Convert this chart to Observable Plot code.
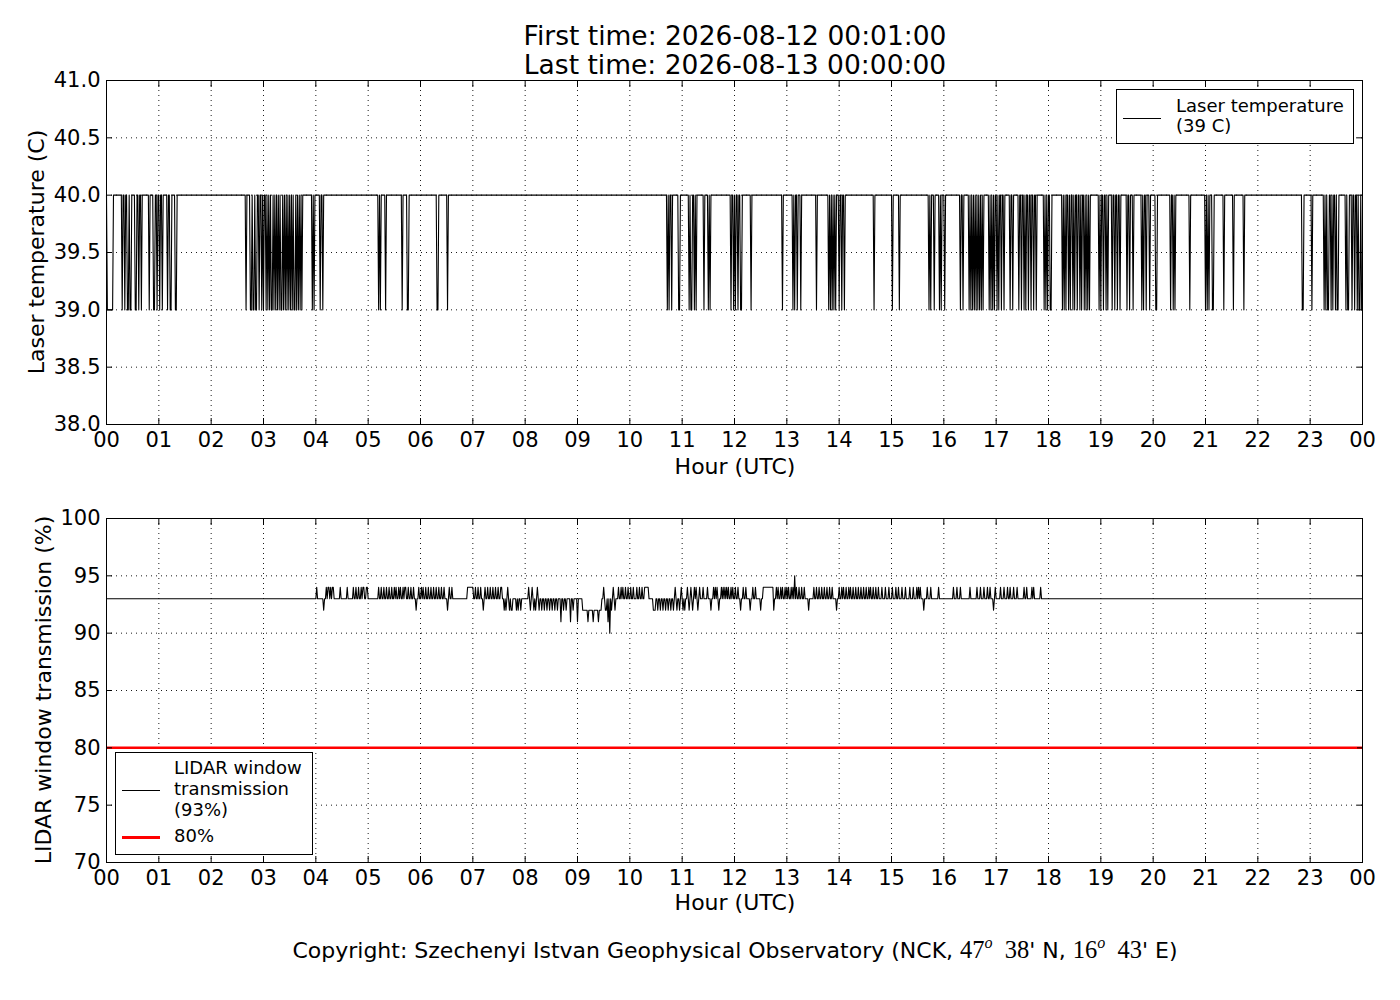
<!DOCTYPE html>
<html>
<head>
<meta charset="utf-8">
<script src="https://cdn.jsdelivr.net/npm/d3@7"></script>
<script src="https://cdn.jsdelivr.net/npm/@observablehq/plot@0.6"></script>
<style>
  html, body { margin: 0; padding: 0; background: #fff; }
  #page { position: relative; width: 1400px; height: 1000px; overflow: hidden; background: #fff; font-family: "DejaVu Sans", sans-serif; color: #000; }
  .abs { position: absolute; white-space: nowrap; }
  .center { transform: translate(-50%, -50%); }
  .title { font-size: 26.5px; line-height: 29px; text-align: center; }
  .axlabel { font-size: 22px; }
  .ylab { transform: translate(-50%, -50%) rotate(-90deg); }
  .legend { position: absolute; box-sizing: border-box; border: 1px solid #000; background: #fff; font-size: 18px; }
  .legend .t { position: absolute; line-height: 20px; }
  .legend svg { shape-rendering: crispEdges; }
  .plotwrap { position: absolute; left: 0; }
  .math { font-family: "Liberation Serif", "DejaVu Serif", serif; font-size: 24.5px; }
  .math sup { font-style: italic; font-size: 16px; vertical-align: 10px; line-height: 0; }
</style>
</head>
<body>
<div id="page">
  <div class="abs center title" style="left:735px; top:50px;">First time: 2026-08-12 00:01:00<br>Last time: 2026-08-13 00:00:00</div>

  <div id="topPlot" class="plotwrap" style="top:70px;"></div>
  <div id="botPlot" class="plotwrap" style="top:508px;"></div>

  <div class="abs axlabel ylab" style="left:36px; top:252px;">Laser temperature (C)</div>
  <div class="abs axlabel center" style="left:735px; top:466px;">Hour (UTC)</div>
  <div class="abs axlabel ylab" style="left:43px; top:690px;">LIDAR window transmission (%)</div>
  <div class="abs axlabel center" style="left:735px; top:902px;">Hour (UTC)</div>

  <div class="legend" style="left:1116px; top:89px; width:238px; height:55px;">
    <svg style="position:absolute; left:6px; top:26px;" width="40" height="4"><line x1="0" x2="38" y1="2" y2="2" stroke="#000" stroke-width="1"/></svg>
    <div class="t" style="left:59px; top:6px;">Laser temperature<br>(39 C)</div>
  </div>

  <div class="legend" style="left:115px; top:752px; width:198px; height:103px;">
    <svg style="position:absolute; left:6px; top:35px;" width="40" height="4"><line x1="0" x2="38" y1="2" y2="2" stroke="#000" stroke-width="1"/></svg>
    <svg style="position:absolute; left:6px; top:81px;" width="40" height="6"><line x1="0" x2="38" y1="3" y2="3" stroke="#ff0000" stroke-width="3"/></svg>
    <div class="t" style="left:58px; top:4px; line-height:21px;">LIDAR window<br>transmission<br>(93%)</div>
    <div class="t" style="left:58px; top:73px;">80%</div>
  </div>

  <div class="abs center" style="left:735px; top:950px; font-size:22px;">Copyright: Szechenyi Istvan Geophysical Observatory (NCK, <span class="math">47<sup>o</sup>&nbsp;&nbsp;38</span>' N, <span class="math">16<sup>o</sup>&nbsp;&nbsp;43</span>' E)</div>
</div>

<script>
// ---------- data (minutes of the day, 0..1440) ----------
const hourTicks = [0,60,120,180,240,300,360,420,480,540,600,660,720,780,840,900,960,1020,1080,1140,1200,1260,1320,1380,1440];
const hourLabels = ["00","01","02","03","04","05","06","07","08","09","10","11","12","13","14","15","16","17","18","19","20","21","22","23","00"];
const tempTicks = [38.0, 38.5, 39.0, 39.5, 40.0, 40.5, 41.0];
const transTicks = [70, 75, 80, 85, 90, 95, 100];

// laser temperature: normal value, and minute spans [start, end) where it reads 39 C
const tempHigh = 40;
const tempLow = 39;
const tempLowSpans = [
  [1,8],[18,19],[21,22],[24,26],[27,29],[33,35],[37,38],[40,41],[49,50],[54,56],[58,59],[61,62],
  [64,65],[70,71],[73,75],[79,81],
  [160,161],[165,167],[168,170],[171,173],[175,176],[178,179],[180,181],
  [183,184],[185,186],[187,188],[189,191],[192,193],[194,195],[196,197],[198,199],[200,202],
  [203,204],[205,206],[207,208],[209,210],[211,212],[213,214],[215,217],[218,219],[220,221],
  [222,223],[224,225],[236,237],[238,239],[245,246],[248,249],
  [312,313],[314,315],[320,321],[339,340],[345,347],[379,381],[391,392],
  [643,644],[645,646],[648,649],[656,658],[668,669],[670,672],[674,675],[676,677],
  [685,686],[690,691],[692,693],[716,717],[719,720],[721,722],[724,725],[727,729],
  [739,740],[775,776],[787,788],[789,790],[792,793],[796,797],[814,815],
  [828,829],[830,831],[832,833],[834,835],[836,837],[840,841],[843,844],[846,847],
  [880,881],[901,902],[909,910],[943,944],[945,946],[949,950],[955,956],[957,958],[961,962],
  [979,980],[982,983],[989,990],[991,992],[993,994],[995,996],[997,998],[999,1000],
  [1001,1002],[1003,1004],[1005,1006],[1012,1013],[1014,1015],[1016,1017],[1018,1019],
  [1021,1022],[1023,1024],[1026,1027],[1029,1030],[1036,1037],[1039,1040],[1046,1047],[1049,1050],
  [1052,1053],[1054,1055],[1057,1058],[1060,1061],[1063,1064],[1066,1067],
  [1075,1076],[1077,1078],[1079,1080],[1082,1084],
  [1096,1097],[1098,1099],[1100,1101],[1103,1104],[1105,1106],[1108,1109],[1110,1111],
  [1113,1114],[1116,1117],[1118,1119],[1121,1122],[1123,1124],[1125,1126],[1127,1128],
  [1138,1139],[1140,1141],[1143,1144],[1146,1147],[1148,1149],
  [1153,1154],[1156,1157],[1159,1160],[1162,1163],[1170,1171],[1173,1174],[1177,1178],
  [1187,1188],[1189,1190],[1192,1193],[1196,1197],[1203,1205],
  [1220,1221],[1223,1224],[1225,1226],[1242,1243],
  [1260,1261],[1262,1263],[1264,1265],[1268,1270],[1281,1282],[1292,1293],[1304,1305],
  [1371,1373],[1382,1383],[1396,1397],[1398,1399],[1400,1402],[1404,1405],[1406,1407],
  [1409,1410],[1411,1413],[1421,1422],[1423,1425],[1428,1429],[1431,1432],
  [1434,1435],[1436,1438],[1439,1441]
];

// LIDAR window transmission: usual value, and minute spans [start, end, value] that differ
const transBase = 93;
const transThreshold = 80;
const transSpans = [
  [241,242,94],[249,250,92],[252,253,94],[254,256,94],[257,258,94],[259,261,94],[268,269,94],[276,277,94],
  [283,284,94],[286,287,94],[289,290,94],[292,293,94],[294,296,94],[298,300,94],
  [312,313,94],[315,316,94],[318,319,94],[321,322,94],[324,325,94],[327,328,94],[330,331,94],[332,333,94],
  [335,336,94],[337,338,94],[340,341,94],[342,344,94],[346,347,94],[349,350,94],[352,353,94],[355,356,92],
  [358,359,94],[361,362,94],[363,364,94],[366,367,94],[369,370,94],[372,373,94],[375,376,94],[378,379,94],
  [381,382,94],[384,385,94],[387,388,94],[391,392,92],[393,394,94],[396,397,94],
  [414,421,94],[423,424,94],[426,427,94],[429,430,94],[432,433,92],[434,435,94],[437,438,94],[440,441,94],
  [443,444,94],[446,447,94],[449,450,94],[452,454,94],
  [456,457,92],[458,459,92],[460,461,94],[462,463,92],[464,466,92],[470,471,92],[472,473,92],[475,476,92],
  [484,485,94],[486,487,92],[488,489,94],[490,491,92],[492,493,92],[494,495,94],[496,497,92],[499,500,92],
  [502,503,92],[505,506,92],[508,509,92],[511,512,92],[514,515,92],[517,518,92],
  [521,522,91],[524,525,92],[527,528,92],[532,533,91],[535,536,92],[540,541,91],
  [546,552,92],[552,553,91],[553,558,92],[558,559,91],[559,564,92],[564,565,91],[565,568,92],
  [570,571,94],[572,574,92],[575,576,91],[577,578,90],[579,580,92],[581,582,94],[583,584,92],
  [587,588,94],[590,591,94],[592,593,94],[595,596,94],[598,599,94],[601,602,94],[604,605,94],[608,609,94],
  [611,612,94],[614,615,94],[617,622,94],[627,630,92],
  [632,633,92],[635,636,92],[638,639,92],[641,642,92],[644,645,92],[647,648,92],[650,651,92],[652,653,94],[654,655,92],
  [657,658,92],[659,660,94],[661,662,92],[663,664,92],[666,667,94],[668,669,92],[670,671,94],[672,673,92],
  [674,675,94],[676,677,94],[678,679,92],[680,681,94],[684,685,94],
  [689,690,94],[693,694,92],[696,697,94],[698,699,94],[700,701,94],[702,703,92],[705,706,94],[707,708,94],
  [709,710,94],[711,712,94],[713,714,94],[716,717,94],[718,719,94],[721,722,94],[724,725,94],
  [727,728,92],[730,731,94],[733,734,94],[738,739,92],[741,742,94],[744,745,94],[750,751,92],[753,765,94],
  [765,766,92],[768,769,94],[770,771,94],[773,774,94],[775,776,94],[778,779,94],[780,781,94],[782,783,94],
  [785,786,94],[787,788,94],[789,790,95],[791,792,94],[794,795,94],[797,798,94],[800,801,94],[805,806,92],
  [811,812,94],[814,815,94],[817,818,94],[820,821,94],[823,824,94],[826,827,94],[829,830,94],[832,833,94],[837,838,92],
  [840,841,94],[843,844,94],[845,846,94],[848,849,94],[851,852,94],[853,854,94],[856,857,94],[859,860,94],
  [862,863,94],[865,866,94],[868,869,94],[871,872,94],[874,875,94],[876,877,94],[879,880,94],[882,883,94],
  [885,886,94],[889,890,94],[893,894,94],[897,898,94],[901,902,94],[905,906,94],[908,909,94],[912,913,94],
  [916,917,94],[921,922,94],[925,926,94],[929,930,94],[931,932,94],[933,934,94],[937,938,92],[941,942,94],
  [945,946,94],[954,955,94],[971,972,94],[975,976,94],[979,980,94],[990,991,94],[998,999,94],[1002,1003,94],
  [1006,1007,94],[1010,1011,94],[1013,1014,94],[1017,1018,92],[1019,1020,94],[1025,1026,94],[1029,1030,94],
  [1033,1034,94],[1036,1037,94],[1040,1041,94],[1044,1045,94],[1052,1053,94],[1055,1056,94],[1061,1062,94],
  [1063,1064,94],[1071,1072,94]
];

// ---------- expand spans into minute samples ----------
const minutes = d3.range(0, 1441);
const tempSeries = minutes.map(m => ({m, v: tempLowSpans.some(([a, b]) => m >= a && m < b) ? tempLow : tempHigh}));
const transSeries = minutes.map(m => {
  const s = transSpans.find(([a, b]) => m >= a && m < b);
  return {m, v: s ? s[2] : transBase};
});

const fmtHour = m => hourLabels[hourTicks.indexOf(m)];
const gridStyle = {stroke: "#000", strokeOpacity: 1, strokeWidth: 0.9, strokeDasharray: "1,4"};
const common = {
  width: 1400, height: 420, marginLeft: 106, marginRight: 38, marginTop: 10, marginBottom: 66,
  style: {fontFamily: "DejaVu Sans", fontSize: "21px", color: "#000", background: "transparent", overflow: "visible"},
  x: {domain: [0, 1440]}
};

function axes(yTicks, yFmt) {
  return [
    Plot.axisX({ticks: hourTicks, anchor: "bottom", tickSize: -6, tickPadding: 14, tickFormat: fmtHour, label: null}),
    Plot.axisX({ticks: hourTicks, anchor: "top", tickSize: -6, tickFormat: () => "", label: null}),
    Plot.axisY({ticks: yTicks, anchor: "left", tickSize: -6, tickPadding: 12, tickFormat: yFmt, label: null}),
    Plot.axisY({ticks: yTicks, anchor: "right", tickSize: -6, tickFormat: () => "", label: null})
  ];
}

const topChart = Plot.plot({
  ...common,
  y: {domain: [38, 41]},
  marks: [
    Plot.gridX(hourTicks, gridStyle),
    Plot.gridY(tempTicks, gridStyle),
    Plot.line(tempSeries, {x: "m", y: "v", stroke: "#000", strokeWidth: 1.1}),
    Plot.frame({stroke: "#000", strokeWidth: 1}),
    ...axes(tempTicks, d => d.toFixed(1))
  ]
});
document.getElementById("topPlot").appendChild(topChart);

const botChart = Plot.plot({
  ...common,
  y: {domain: [70, 100]},
  marks: [
    Plot.gridX(hourTicks, gridStyle),
    Plot.gridY(transTicks, gridStyle),
    Plot.line(transSeries, {x: "m", y: "v", stroke: "#000", strokeWidth: 1.1}),
    Plot.ruleY([transThreshold], {stroke: "#ff0000", strokeWidth: 2.5}),
    Plot.frame({stroke: "#000", strokeWidth: 1}),
    ...axes(transTicks, d => String(d))
  ]
});
document.getElementById("botPlot").appendChild(botChart);
</script>
</body>
</html>
